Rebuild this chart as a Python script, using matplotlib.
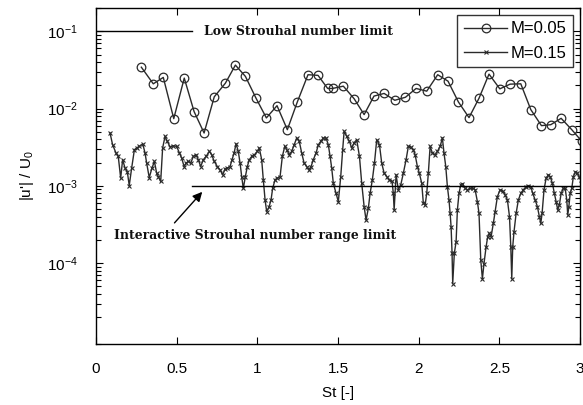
import numpy as np
import matplotlib
matplotlib.use("Agg")
import matplotlib.pyplot as plt
from matplotlib.ticker import LogLocator, NullFormatter

plt.rcParams['font.family'] = 'Liberation Sans'
plt.rcParams['mathtext.fontset'] = 'custom'
plt.rcParams['mathtext.rm'] = 'Liberation Sans'
plt.rcParams['mathtext.it'] = 'Liberation Sans:italic'
plt.rcParams['xtick.direction'] = 'in'
plt.rcParams['ytick.direction'] = 'in'

# M=0.05 (circles)
st_05 = [0.281, 0.355, 0.417, 0.482, 0.547, 0.608, 0.670, 0.733, 0.802, 0.864,
         0.926, 0.992, 1.056, 1.122, 1.186, 1.248, 1.314, 1.376, 1.436, 1.466,
         1.533, 1.600, 1.662, 1.723, 1.786, 1.852, 1.918, 1.984, 2.050, 2.118,
         2.182, 2.246, 2.312, 2.374, 2.436, 2.503, 2.567, 2.633, 2.695, 2.761,
         2.819, 2.883, 2.949, 3.010]
u_05 = [0.0343, 0.0209, 0.0253, 0.00741, 0.0248, 0.00914, 0.00483, 0.0142, 0.0213, 0.0365,
        0.0261, 0.0136, 0.00757, 0.0109, 0.00533, 0.0122, 0.0274, 0.0269, 0.0182, 0.0182,
        0.0195, 0.0134, 0.00836, 0.0145, 0.0157, 0.0128, 0.0140, 0.0182, 0.0168, 0.0274,
        0.0226, 0.0122, 0.00764, 0.0136, 0.0279, 0.0180, 0.0207, 0.0209, 0.00970, 0.00601,
        0.00619, 0.00748, 0.00533, 0.0038]

# M=0.15 (crosses)
st_15 = [0.087, 0.103, 0.124, 0.138, 0.153, 0.165, 0.180, 0.194, 0.206, 0.221,
         0.238, 0.252, 0.268, 0.290, 0.304, 0.314, 0.330, 0.347, 0.362, 0.376,
         0.386, 0.401, 0.413, 0.428, 0.442, 0.459, 0.479, 0.500, 0.517, 0.531,
         0.546, 0.558, 0.572, 0.587, 0.603, 0.620, 0.634, 0.649, 0.665, 0.682,
         0.703, 0.717, 0.733, 0.752, 0.769, 0.785, 0.800, 0.814, 0.831, 0.843,
         0.856, 0.868, 0.882, 0.893, 0.903, 0.913, 0.926, 0.938, 0.950, 0.965,
         0.980, 1.000, 1.012, 1.027, 1.037, 1.048, 1.058, 1.073, 1.085, 1.095,
         1.110, 1.124, 1.141, 1.155, 1.170, 1.182, 1.198, 1.213, 1.228, 1.244,
         1.260, 1.275, 1.290, 1.306, 1.319, 1.333, 1.347, 1.364, 1.378, 1.393,
         1.409, 1.426, 1.440, 1.451, 1.461, 1.471, 1.488, 1.502, 1.517, 1.529,
         1.538, 1.554, 1.571, 1.585, 1.600, 1.616, 1.633, 1.647, 1.662, 1.674,
         1.688, 1.699, 1.713, 1.726, 1.740, 1.757, 1.771, 1.786, 1.802, 1.818,
         1.835, 1.843, 1.848, 1.860, 1.874, 1.889, 1.905, 1.922, 1.936, 1.951,
         1.967, 1.978, 1.992, 2.004, 2.019, 2.029, 2.040, 2.050, 2.060, 2.071,
         2.085, 2.102, 2.116, 2.133, 2.147, 2.157, 2.168, 2.178, 2.188, 2.195,
         2.201, 2.207, 2.211, 2.221, 2.232, 2.240, 2.250, 2.261, 2.271, 2.288,
         2.302, 2.319, 2.339, 2.350, 2.364, 2.374, 2.385, 2.395, 2.405, 2.418,
         2.428, 2.438, 2.449, 2.463, 2.474, 2.488, 2.505, 2.521, 2.536, 2.550,
         2.563, 2.571, 2.577, 2.583, 2.591, 2.604, 2.618, 2.633, 2.649, 2.666,
         2.680, 2.695, 2.707, 2.722, 2.736, 2.748, 2.757, 2.765, 2.777, 2.790,
         2.804, 2.815, 2.829, 2.841, 2.852, 2.862, 2.872, 2.883, 2.897, 2.908,
         2.918, 2.924, 2.931, 2.939, 2.949, 2.959, 2.972, 2.984, 2.993, 3.005]
u_15 = [4.83e-3, 3.40e-3, 2.66e-3, 2.40e-3, 1.26e-3, 2.18e-3, 1.70e-3, 1.53e-3, 1.01e-3, 1.70e-3,
        2.94e-3, 3.09e-3, 3.24e-3, 3.48e-3, 2.66e-3, 1.97e-3, 1.28e-3, 1.70e-3, 2.07e-3, 1.46e-3,
        1.32e-3, 1.14e-3, 3.09e-3, 4.37e-3, 3.76e-3, 3.20e-3, 3.30e-3, 3.24e-3, 2.66e-3, 2.29e-3,
        1.78e-3, 1.97e-3, 2.07e-3, 1.97e-3, 2.40e-3, 2.53e-3, 2.18e-3, 1.78e-3, 2.18e-3, 2.40e-3,
        2.79e-3, 2.53e-3, 2.07e-3, 1.78e-3, 1.61e-3, 1.39e-3, 1.65e-3, 1.70e-3, 1.78e-3, 2.18e-3,
        2.66e-3, 3.51e-3, 2.79e-3, 1.97e-3, 1.32e-3, 9.3e-4, 1.32e-3, 1.78e-3, 2.18e-3, 2.40e-3,
        2.50e-3, 2.79e-3, 3.09e-3, 2.18e-3, 1.20e-3, 6.58e-4, 4.64e-4, 5.38e-4, 6.58e-4, 9.3e-4,
        1.20e-3, 1.26e-3, 1.32e-3, 2.40e-3, 3.24e-3, 2.94e-3, 2.53e-3, 2.79e-3, 3.40e-3, 4.16e-3,
        3.76e-3, 2.66e-3, 1.97e-3, 1.78e-3, 1.61e-3, 1.78e-3, 2.18e-3, 2.66e-3, 3.40e-3, 3.76e-3,
        4.16e-3, 4.16e-3, 3.40e-3, 2.40e-3, 1.70e-3, 1.08e-3, 8.0e-4, 6.25e-4, 1.32e-3, 2.94e-3,
        5.07e-3, 4.37e-3, 3.76e-3, 3.09e-3, 3.62e-3, 3.95e-3, 2.40e-3, 1.08e-3, 5.38e-4, 3.61e-4,
        5.13e-4, 8.0e-4, 1.20e-3, 1.97e-3, 3.95e-3, 3.40e-3, 1.97e-3, 1.46e-3, 1.32e-3, 1.20e-3,
        1.14e-3, 8.0e-4, 4.88e-4, 1.39e-3, 8.9e-4, 1.03e-3, 1.46e-3, 2.18e-3, 3.24e-3, 3.18e-3,
        2.94e-3, 2.53e-3, 1.78e-3, 1.46e-3, 1.08e-3, 5.96e-4, 5.66e-4, 8.0e-4, 1.46e-3, 3.24e-3,
        2.66e-3, 2.53e-3, 2.79e-3, 3.24e-3, 4.16e-3, 2.66e-3, 1.78e-3, 9.8e-4, 6.58e-4, 4.41e-4,
        2.96e-4, 1.34e-4, 5.44e-5, 1.34e-4, 1.89e-4, 4.88e-4, 8.0e-4, 1.03e-3, 1.07e-3, 9.3e-4,
        8.9e-4, 9.3e-4, 9.3e-4, 8.9e-4, 6.25e-4, 4.41e-4, 1.09e-4, 6.3e-5, 9.9e-5, 1.63e-4,
        2.2e-4, 2.43e-4, 2.2e-4, 3.3e-4, 4.64e-4, 7.26e-4, 8.9e-4, 8.5e-4, 7.64e-4, 6.58e-4,
        4.0e-4, 1.63e-4, 6.3e-5, 1.63e-4, 2.55e-4, 4.41e-4, 6.58e-4, 8.0e-4, 8.9e-4, 9.8e-4,
        1.01e-3, 9.8e-4, 8.0e-4, 6.58e-4, 5.38e-4, 4.0e-4, 3.28e-4, 4.41e-4, 8.9e-4, 1.26e-3,
        1.39e-3, 1.32e-3, 1.08e-3, 8.0e-4, 6.25e-4, 4.88e-4, 5.66e-4, 8.0e-4, 9.3e-4, 9.3e-4,
        6.58e-4, 4.2e-4, 5.38e-4, 8.0e-4, 9.3e-4, 1.32e-3, 1.53e-3, 1.46e-3, 1.32e-3, 1.20e-3]

low_limit = 1e-1
range_limit = 1e-3

fig = plt.figure(figsize=(5.83, 4.05), dpi=100)
ax = fig.add_axes([96/583, 61/405, 484/583, 336/405])

lc = '#2a2a2a'
ax.plot(st_05, u_05, color=lc, lw=1.0, marker='o', ms=6.2, mfc='none', mec=lc, mew=0.9, label='M=0.05')
ax.plot(st_15, u_15, color=lc, lw=1.0, marker='x', ms=3.5, mec=lc, mew=0.8, label='M=0.15')

ax.plot([0, 0.593], [low_limit, low_limit], color='k', lw=1.0)
ax.plot([0.593, 3.0], [range_limit, range_limit], color='k', lw=1.0)

ax.text(0.67, low_limit, 'Low Strouhal number limit', family='DejaVu Serif', fontweight='bold',
        fontsize=8.9, va='center', ha='left', color='#111111')
ax.text(0.113, 2.27e-4, 'Interactive Strouhal number range limit', family='DejaVu Serif',
        fontweight='bold', fontsize=8.9, va='center', ha='left', color='#111111')
ax.annotate('', xy=(0.67, 8.9e-4), xytext=(0.475, 3.12e-4),
            arrowprops=dict(arrowstyle='-|>', color='k', lw=1.0, mutation_scale=14))

ax.set_yscale('log')
ax.set_xlim(0, 3)
ax.set_ylim(9e-6, 0.2)
ax.set_xticks([0, 0.5, 1, 1.5, 2, 2.5, 3])
ax.set_xticklabels(['0', '0.5', '1', '1.5', '2', '2.5', '3'])
ax.set_yticks([1e-4, 1e-3, 1e-2, 1e-1])
ax.yaxis.set_minor_locator(LogLocator(base=10, subs=np.arange(2, 10), numticks=50))
ax.yaxis.set_minor_formatter(NullFormatter())
ax.tick_params(axis='both', which='both', top=True, right=True, labelsize=11)
ax.tick_params(axis='x', which='major', length=5, pad=13)
ax.tick_params(axis='y', which='major', length=5, pad=13)
ax.tick_params(axis='y', which='minor', length=3.5, width=0.8)
for s in ax.spines.values():
    s.set_linewidth(1.0)

ax.set_xlabel('St [-]', fontsize=11, labelpad=7)
ax.set_ylabel("|u'| / U$_0$", fontsize=11, labelpad=8)

leg = ax.legend(loc='upper right', fontsize=12, frameon=True, fancybox=False, edgecolor='k',
                handlelength=2.6, borderpad=0.4, labelspacing=0.55,
                handletextpad=0.2, borderaxespad=0.4)
leg.get_frame().set_linewidth(1.0)

fig.savefig('out.png', dpi=100)
